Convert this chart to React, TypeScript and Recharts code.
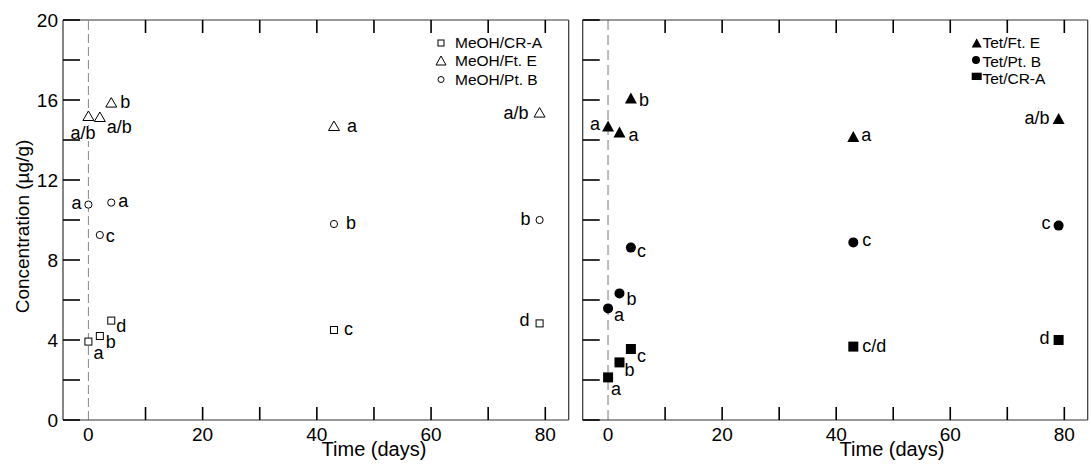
import React from 'react';
import { ScatterChart, Scatter, XAxis, YAxis, ReferenceLine } from 'recharts';

// ---- data ----
const days = [0, 2, 4, 43, 79];

const meohCRA = [3.92, 4.2, 4.97, 4.5, 4.83];
const meohFtE = [15.2, 15.15, 15.87, 14.7, 15.37];
const meohPtB = [10.77, 9.25, 10.87, 9.8, 10.0];

const tetFtE = [14.7, 14.4, 16.1, 14.17, 15.08];
const tetPtB = [5.58, 6.33, 8.62, 8.88, 9.72];
const tetCRA = [2.13, 2.88, 3.55, 3.67, 4.0];

const meohCRALetters = ['a', 'b', 'd', 'c', 'd'];
const meohFtELetters = ['a/b', 'a/b', 'b', 'a', 'a/b'];
const meohPtBLetters = ['a', 'c', 'a', 'b', 'b'];
const tetFtELetters = ['a', 'a', 'b', 'a', 'a/b'];
const tetPtBLetters = ['a', 'b', 'c', 'c', 'c'];
const tetCRALetters = ['a', 'b', 'c', 'c/d', 'd'];

const xTicks = [0, 10, 20, 30, 40, 50, 60, 70, 80];
const yTicks = [0, 2, 4, 6, 8, 10, 12, 14, 16, 18, 20];

const leftLegendNames = ['MeOH/CR-A', 'MeOH/Ft. E', 'MeOH/Pt. B'];
const rightLegendNames = ['Tet/Ft. E', 'Tet/Pt. B', 'Tet/CR-A'];

// ---- label placement (style) : [dx, dy, anchor, whiteBg] ----
type Off = [number, number, 'start' | 'end', boolean?];
const offMeohCRA: Off[] = [[5, 17, 'start'], [6, 12, 'start'], [5, 11, 'start'], [10, 5, 'start'], [-10, 3, 'end']];
const offMeohFtE: Off[] = [[7, 23, 'end', true], [7, 16, 'start'], [9, 5, 'start'], [13, 6, 'start'], [-11, 6, 'end']];
const offMeohPtB: Off[] = [[-7, 4, 'end'], [6, 7, 'start'], [7, 4, 'start'], [12, 5, 'start'], [-9, 5, 'end']];
const offTetFtE: Off[] = [[-8, 4, 'end'], [9, 9, 'start'], [8, 8, 'start'], [8, 4, 'start'], [-9, 6, 'end']];
const offTetPtB: Off[] = [[6, 13, 'start'], [7, 12, 'start'], [6, 9, 'start'], [9, 4, 'start'], [-8, 3, 'end']];
const offTetCRA: Off[] = [[3, 18, 'start'], [5, 14, 'start'], [6, 13, 'start'], [9, 5, 'start'], [-9, 4, 'end']];

const FONT = '"Liberation Sans", Arial, Helvetica, sans-serif';
const LABEL_FS = 18;
const TICK_FS = 19;
const TITLE_FS = 20;

type Row = { x: number; y: number; label: string; i: number };
const makeRows = (vals: number[], letters: string[]): Row[] =>
  days.map((d, i) => ({ x: d, y: vals[i], label: letters[i], i }));

type MarkerKind = 'sqOpen' | 'triOpen' | 'cirOpen' | 'sqFill' | 'triFill' | 'cirFill';

const Marker = ({ kind, cx, cy }: { kind: MarkerKind; cx: number; cy: number }) => {
  switch (kind) {
    case 'sqOpen':
      return <rect x={cx - 3.5} y={cy - 3.5} width={7} height={7} fill="#fff" stroke="#000" strokeWidth={1} />;
    case 'triOpen':
      return (
        <polygon
          points={`${cx - 5.5},${cy + 4.5} ${cx + 5.5},${cy + 4.5} ${cx},${cy - 5}`}
          fill="#fff"
          stroke="#000"
          strokeWidth={1}
        />
      );
    case 'cirOpen':
      return <circle cx={cx} cy={cy} r={3.6} fill="#fff" stroke="#000" strokeWidth={1} />;
    case 'sqFill':
      return <rect x={cx - 5} y={cy - 5} width={10} height={10} fill="#000" />;
    case 'triFill':
      return <polygon points={`${cx - 6},${cy + 5.5} ${cx + 6},${cy + 5.5} ${cx},${cy - 5.5}`} fill="#000" />;
    case 'cirFill':
      return <circle cx={cx} cy={cy} r={5} fill="#000" />;
  }
  return null;
};

const makeShape = (kind: MarkerKind, offs: Off[]) => (props: any) => {
  const { cx, cy, payload } = props;
  if (cx == null || cy == null) return <g />;
  const o = offs[payload.i];
  const tx = cx + o[0];
  const ty = cy + o[1];
  const w = payload.label.length * LABEL_FS * 0.5;
  return (
    <g>
      <Marker kind={kind} cx={cx} cy={cy} />
      {o[3] ? (
        <rect x={o[2] === 'end' ? tx - w - 1 : tx - 1} y={ty - 13} width={w + 2} height={15} fill="#fff" />
      ) : null}
      <text x={tx} y={ty} textAnchor={o[2]} fontSize={LABEL_FS} fontFamily={FONT} fill="#000">
        {payload.label}
      </text>
    </g>
  );
};

// ---- ticks ----
const BottomTick = (props: any) => {
  const { x, y, payload } = props;
  const v = payload.value;
  return (
    <g>
      {v !== 0 ? <line x1={x} x2={x} y1={y} y2={y - 13} stroke="#000" strokeWidth={1.6} /> : null}
      {v % 20 === 0 ? (
        <text x={x} y={y + 21} textAnchor="middle" fontSize={TICK_FS} fontFamily={FONT} fill="#000">
          {v}
        </text>
      ) : null}
    </g>
  );
};
const TopTick = (props: any) => {
  const { x, y, payload } = props;
  if (payload.value === 0) return <g />;
  return <line x1={x} x2={x} y1={y} y2={y + 13} stroke="#000" strokeWidth={1.6} />;
};
const makeLeftTick = (withLabels: boolean) => (props: any) => {
  const { x, y, payload } = props;
  const v = payload.value;
  return (
    <g>
      <line x1={x} x2={x + 17} y1={y} y2={y} stroke="#000" strokeWidth={1.6} />
      {withLabels && v % 4 === 0 ? (
        <text x={x - 5} y={y + 7} textAnchor="end" fontSize={TICK_FS} fontFamily={FONT} fill="#000">
          {v}
        </text>
      ) : null}
    </g>
  );
};
const RightTick = (props: any) => {
  const { x, y } = props;
  return <line x1={x} x2={x - 17} y1={y} y2={y} stroke="#000" strokeWidth={1.6} />;
};

const DOMAIN: [number, number] = [-4.45, 84.1];
const axisLine = { stroke: '#333', strokeWidth: 1.2 };

type Series = { name: string; rows: Row[]; kind: MarkerKind; offs: Off[] };

const Panel = ({
  width,
  margin,
  series,
  showYLabels,
  refStroke,
  refWidth,
  refDash,
}: {
  width: number;
  margin: { top: number; right: number; bottom: number; left: number };
  series: Series[];
  showYLabels: boolean;
  refStroke: string;
  refWidth: number;
  refDash: string;
}) => (
  <ScatterChart width={width} height={472} margin={margin}>
    <XAxis
      xAxisId="b"
      dataKey="x"
      type="number"
      domain={DOMAIN}
      allowDataOverflow
      ticks={xTicks}
      interval={0}
      height={1}
      tickSize={0}
      tickMargin={0}
      tickLine={false}
      axisLine={axisLine}
      tick={BottomTick}
    />
    <XAxis
      xAxisId="t"
      orientation="top"
      dataKey="x"
      type="number"
      domain={DOMAIN}
      allowDataOverflow
      ticks={xTicks}
      interval={0}
      height={1}
      tickSize={0}
      tickMargin={0}
      tickLine={false}
      axisLine={axisLine}
      tick={TopTick}
    />
    <YAxis
      yAxisId="l"
      dataKey="y"
      type="number"
      domain={[0, 20]}
      ticks={yTicks}
      interval={0}
      width={1}
      tickSize={0}
      tickMargin={0}
      tickLine={false}
      axisLine={axisLine}
      tick={makeLeftTick(showYLabels)}
    />
    <YAxis
      yAxisId="r"
      orientation="right"
      dataKey="y"
      type="number"
      domain={[0, 20]}
      ticks={yTicks}
      interval={0}
      width={1}
      tickSize={0}
      tickMargin={0}
      tickLine={false}
      axisLine={axisLine}
      tick={RightTick}
    />
    <ReferenceLine
      xAxisId="b"
      yAxisId="l"
      x={0}
      stroke={refStroke}
      strokeWidth={refWidth}
      strokeDasharray={refDash}
    />
    {series.map((s) => (
      <Scatter
        key={s.name}
        name={s.name}
        xAxisId="b"
        yAxisId="l"
        data={s.rows}
        isAnimationActive={false}
        shape={makeShape(s.kind, s.offs)}
      />
    ))}
  </ScatterChart>
);

const leftSeries: Series[] = [
  { name: leftLegendNames[0], rows: makeRows(meohCRA, meohCRALetters), kind: 'sqOpen', offs: offMeohCRA },
  { name: leftLegendNames[1], rows: makeRows(meohFtE, meohFtELetters), kind: 'triOpen', offs: offMeohFtE },
  { name: leftLegendNames[2], rows: makeRows(meohPtB, meohPtBLetters), kind: 'cirOpen', offs: offMeohPtB },
];
const rightSeries: Series[] = [
  { name: rightLegendNames[0], rows: makeRows(tetFtE, tetFtELetters), kind: 'triFill', offs: offTetFtE },
  { name: rightLegendNames[1], rows: makeRows(tetPtB, tetPtBLetters), kind: 'cirFill', offs: offTetPtB },
  { name: rightLegendNames[2], rows: makeRows(tetCRA, tetCRALetters), kind: 'sqFill', offs: offTetCRA },
];

const Legends = () => (
  <svg width={1091} height={472} style={{ position: 'absolute', left: 0, top: 0, pointerEvents: 'none' }}>
    {/* left legend */}
    <rect x={438} y={40} width={6} height={6} fill="#fff" stroke="#000" strokeWidth={1} />
    <polygon points="436,65 446,65 441,56" fill="#fff" stroke="#000" strokeWidth={1} />
    <circle cx={441} cy={79.5} r={3} fill="#fff" stroke="#000" strokeWidth={1} />
    {leftLegendNames.map((n, i) => (
      <text key={n} x={455} y={[48.3, 66, 85][i]} fontSize={15.5} fontFamily={FONT} fill="#000">
        {n}
      </text>
    ))}
    {/* right legend */}
    <polygon points="971.7,47.5 981.7,47.5 976.7,38.3" fill="#000" />
    <circle cx={976} cy={60} r={4} fill="#000" />
    <rect x={971.7} y={72.7} width={10} height={7.3} fill="#000" />
    {rightLegendNames.map((n, i) => (
      <text key={n} x={982.5} y={[48.3, 66.5, 84][i]} fontSize={15.5} fontFamily={FONT} fill="#000">
        {n}
      </text>
    ))}
    {/* axis titles */}
    <text x={374} y={456} textAnchor="middle" fontSize={TITLE_FS} fontFamily={FONT} fill="#000">
      Time (days)
    </text>
    <text x={892} y={456} textAnchor="middle" fontSize={TITLE_FS} fontFamily={FONT} fill="#000">
      Time (days)
    </text>
    <text
      x={0}
      y={0}
      transform="translate(29,226.5) rotate(-90)"
      textAnchor="middle"
      fontSize={TICK_FS}
      fontFamily={FONT}
      fill="#000"
    >
      Concentration (µg/g)
    </text>
  </svg>
);

export default function App() {
  return (
    <div
      style={{
        position: 'absolute',
        left: 0,
        top: 0,
        width: 1091,
        height: 472,
        background: '#fff',
        fontFamily: FONT,
      }}
    >
      <div style={{ position: 'absolute', left: 0, top: 0 }}>
        <Panel
          width={575}
          margin={{ top: 19, right: 5.3, bottom: 51, left: 62 }}
          series={leftSeries}
          showYLabels
          refStroke="#888"
          refWidth={1}
          refDash="9 4"
        />
      </div>
      <div style={{ position: 'absolute', left: 575, top: 0 }}>
        <Panel
          width={516}
          margin={{ top: 19, right: 2.3, bottom: 51, left: 6.7 }}
          series={rightSeries}
          showYLabels={false}
          refStroke="#bbb"
          refWidth={2}
          refDash="10 5"
        />
      </div>
      <Legends />
    </div>
  );
}
